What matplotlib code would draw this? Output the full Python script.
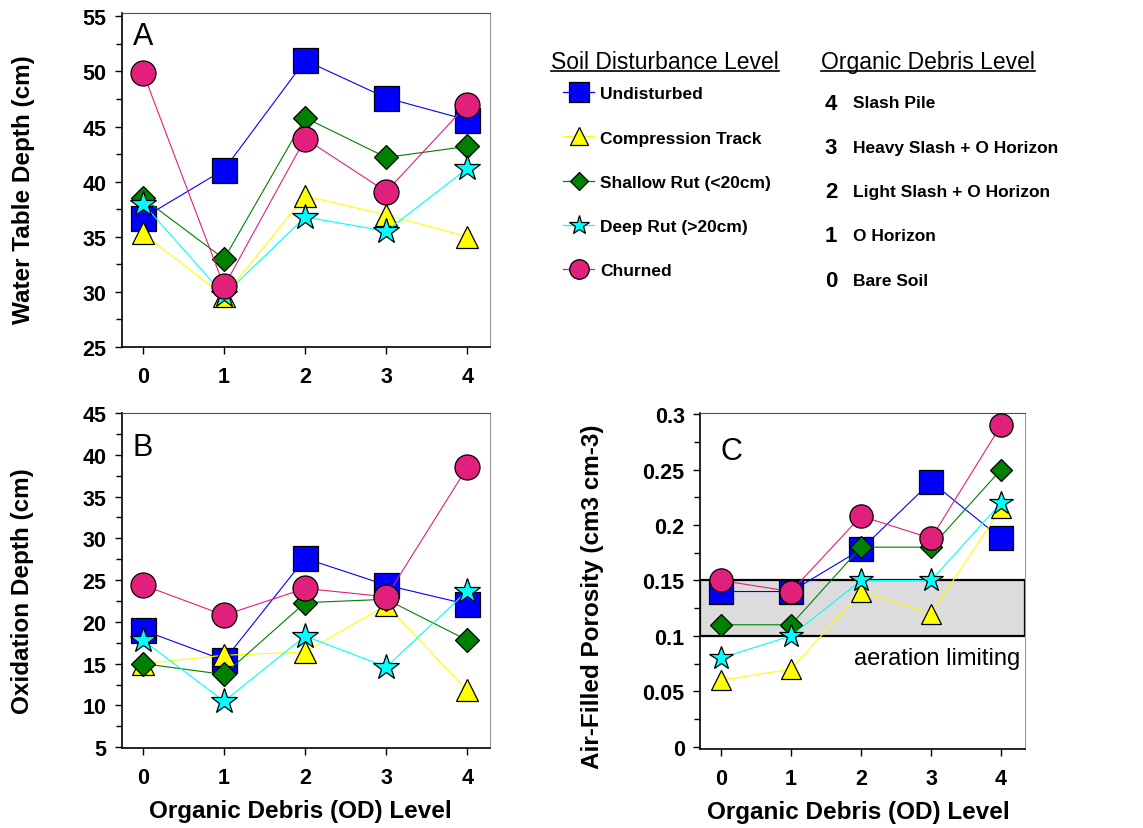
import matplotlib
matplotlib.use("Agg")
import matplotlib.pyplot as plt
from matplotlib.lines import Line2D
from matplotlib.ticker import MultipleLocator

plt.rcParams['font.family'] = ['Liberation Sans', 'DejaVu Sans']

# data
od_level = [0, 1, 2, 3, 4]
series = ["Undisturbed", "Compression Track", "Shallow Rut (<20cm)",
          "Deep Rut (>20cm)", "Churned"]
colors = ["#0000FF", "#FFFF00", "#008000", "#00FFFF", "#E0207A"]
markers = ["s", "^", "D", "*", "o"]
msizes = [18, 16, 12, 19, 18]

# rows follow the series order above
water_table = [
    [36.7, 41.1, 51.0, 47.6, 45.6],
    [35.3, 29.6, 38.7, 37.0, 35.0],
    [38.5, 33.0, 45.8, 42.2, 43.2],
    [38.0, 29.7, 36.8, 35.5, 41.2],
    [49.9, 30.5, 43.9, 39.1, 47.0],
]
oxidation = [
    [19.0, 15.4, 27.6, 24.4, 22.1],
    [15.0, 16.0, 16.4, 22.0, 11.8],
    [15.0, 13.7, 22.3, 22.7, 17.8],
    [17.8, 10.5, 18.3, 14.6, 23.7],
    [24.4, 20.8, 24.0, 23.0, 38.5],
]
porosity = [
    [0.14, 0.14, 0.178, 0.239, 0.188],
    [0.06, 0.07, 0.14, 0.12, 0.215],
    [0.11, 0.11, 0.18, 0.18, 0.25],
    [0.08, 0.10, 0.15, 0.15, 0.22],
    [0.15, 0.14, 0.208, 0.188, 0.29],
]

od_codes = [4, 3, 2, 1, 0]
od_names = ["Slash Pile", "Heavy Slash + O Horizon", "Light Slash + O Horizon",
            "O Horizon", "Bare Soil"]

W, H = 1143, 829
fig = plt.figure(figsize=(W / 100, H / 100), dpi=100)

axA = fig.add_axes([0.1067, 0.5802, 0.322, 0.4029])
axB = fig.add_axes([0.1067, 0.0965, 0.322, 0.4041])
axC = fig.add_axes([0.6124, 0.0953, 0.2843, 0.4053])


def style_axes(ax, ylim, major, minor, xlim):
    ax.set_xlim(*xlim)
    ax.set_ylim(*ylim)
    ax.set_xticks(od_level)
    ax.yaxis.set_major_locator(MultipleLocator(major))
    ax.yaxis.set_minor_locator(MultipleLocator(minor))
    ax.tick_params(axis='both', which='both', direction='out', width=1)
    ax.tick_params(axis='y', which='major', length=5, pad=6, labelsize=15.5)
    ax.tick_params(axis='y', which='minor', length=4)
    ax.tick_params(axis='x', length=5, pad=9, labelsize=15.5)
    for lab in ax.get_xticklabels() + ax.get_yticklabels():
        lab.set_fontweight('bold')
    ax.spines['left'].set_linewidth(1.2)
    ax.spines['bottom'].set_linewidth(1.2)
    ax.spines['top'].set_color('#505050')
    ax.spines['right'].set_color('#999999')


def draw_series(ax, values, scale=1.0):
    for vals, c, m, s in zip(values, colors, markers, msizes):
        ax.plot(od_level, vals, color=c, lw=0.8, marker=m, markersize=s * scale,
                markerfacecolor=c, markeredgecolor='black', markeredgewidth=0.9,
                zorder=3)


# panel A
draw_series(axA, water_table)
style_axes(axA, (25, 55.3), 5, 2.5, (-0.26, 4.28))
axA.set_ylabel("Water Table Depth (cm)", fontsize=17.5, fontweight='bold')
axA.yaxis.label.set_va('center')
axA.yaxis.set_label_coords(-0.268, 0.475)
axA.text(0.057, 0.931, "A", transform=axA.transAxes, fontsize=22,
         ha='center', va='center')

# panel B
draw_series(axB, oxidation)
style_axes(axB, (4.9, 45), 5, 2.5, (-0.26, 4.28))
axB.set_ylabel("Oxidation Depth (cm)", fontsize=17.5, fontweight='bold')
axB.yaxis.label.set_va('center')
axB.yaxis.set_label_coords(-0.270, 0.472)
axB.set_xlabel("Organic Debris (OD) Level", fontsize=17.5, fontweight='bold')
axB.xaxis.label.set_va('center')
axB.xaxis.set_label_coords(0.484, -0.188)
axB.text(0.057, 0.898, "B", transform=axB.transAxes, fontsize=22,
         ha='center', va='center')

# panel C
axC.axhspan(0.10, 0.15, facecolor='#dcdcdc', edgecolor='black', lw=1.6, zorder=1)
draw_series(axC, porosity, scale=0.93)
style_axes(axC, (-0.002, 0.301), 0.05, 0.025, (-0.3, 4.34))
axC.yaxis.set_major_formatter(matplotlib.ticker.FuncFormatter(
    lambda v, p: f"{v:g}"))
axC.set_ylabel("Air-Filled Porosity (cm3 cm-3)", fontsize=17.5, fontweight='bold')
axC.yaxis.label.set_va('center')
axC.yaxis.set_label_coords(-0.332, 0.455)
axC.set_xlabel("Organic Debris (OD) Level", fontsize=17.5, fontweight='bold')
axC.xaxis.label.set_va('center')
axC.xaxis.set_label_coords(0.486, -0.185)
axC.text(0.098, 0.887, "C", transform=axC.transAxes, fontsize=22,
         ha='center', va='center')
axC.text(0.985, 0.27, "aeration limiting", transform=axC.transAxes,
         fontsize=17, ha='right', va='center')
for lab in axC.get_yticklabels():
    lab.set_fontweight('bold')

# soil disturbance legend
handles = [Line2D([], [], color=c, lw=0.9, marker=m, markersize=s * 0.78,
                  markerfacecolor=c, markeredgecolor='black', markeredgewidth=0.9)
           for c, m, s in zip(colors, markers, msizes)]
fig.legend(handles, series, loc='upper left', bbox_to_anchor=(0.4926, 0.895),
           frameon=False, prop={'size': 12.5, 'weight': 'bold'},
           handlelength=1.8, handletextpad=0.35, labelspacing=1.68,
           borderpad=0, borderaxespad=0)

t1 = fig.text(551 / W, 1 - 69 / H, "Soil Disturbance Level", fontsize=16.5,
              ha='left', va='baseline')
t2 = fig.text(821 / W, 1 - 69 / H, "Organic Debris Level", fontsize=16.5,
              ha='left', va='baseline')

# organic debris key
for i, (code, name) in enumerate(zip(od_codes, od_names)):
    ypix = 104 + i * 44.3
    fig.text(831 / W, 1 - ypix / H, str(code), fontsize=16, fontweight='bold',
             ha='center', va='center')
    fig.text(853 / W, 1 - ypix / H, name, fontsize=12.5, fontweight='bold',
             ha='left', va='center')

# underline the two key titles
fig.canvas.draw()
renderer = fig.canvas.get_renderer()
for t in (t1, t2):
    bb = t.get_window_extent(renderer)
    yline = 1 - 71.5 / H
    fig.add_artist(Line2D([bb.x0 / W, bb.x1 / W], [yline, yline],
                          color='black', lw=1.2, transform=fig.transFigure))

fig.savefig("out.png", dpi=100)
